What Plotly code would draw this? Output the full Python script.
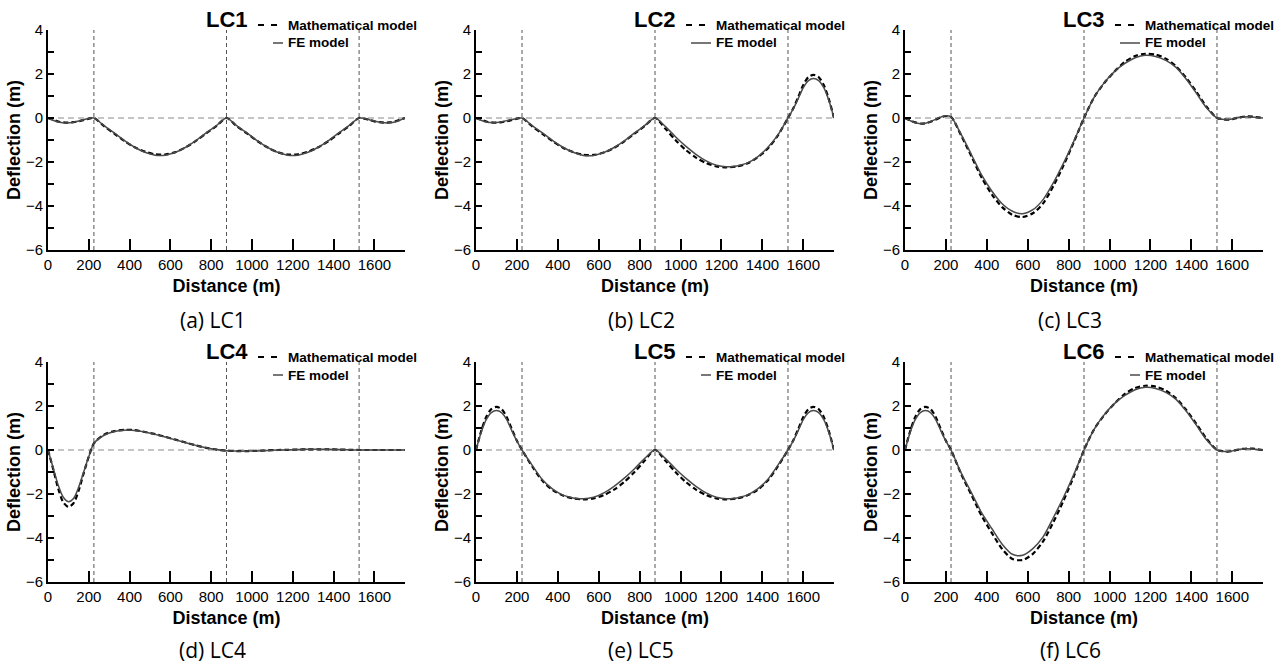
import plotly.graph_objects as go

# ---------------- data ----------------
X_DIST = [0, 25, 50, 75, 100, 125, 150, 175, 200, 225,
          275, 325, 375, 425, 475, 525, 575, 625, 675, 725, 775, 825, 875,
          925, 975, 1025, 1075, 1125, 1175, 1225, 1275, 1325, 1375, 1425, 1475, 1525,
          1550, 1575, 1600, 1625, 1650, 1675, 1700, 1725, 1750]

SUPPORTS = [225, 875, 1525]

CASES = ["LC1", "LC2", "LC3", "LC4", "LC5", "LC6"]
CAPTIONS = ["(a) LC1", "(b) LC2", "(c) LC3", "(d) LC4", "(e) LC5", "(f) LC6"]
SERIES_NAMES = ["Mathematical model", "FE model"]

LC1_MATH = [0, -0.08, -0.16, -0.2, -0.21, -0.19, -0.15, -0.09, -0.03, 0.0,
            -0.37, -0.71, -1.05, -1.33, -1.53, -1.65, -1.66, -1.55, -1.33, -1.04, -0.7, -0.37, 0.0,
            -0.37, -0.7, -1.04, -1.33, -1.55, -1.66, -1.65, -1.53, -1.33, -1.05, -0.71, -0.37, 0.0,
            -0.03, -0.09, -0.15, -0.19, -0.21, -0.2, -0.16, -0.08, 0.0]
LC1_FE = [0, -0.1, -0.18, -0.22, -0.22, -0.19, -0.14, -0.08, -0.02, 0.0,
          -0.35, -0.68, -1.03, -1.33, -1.56, -1.69, -1.69, -1.56, -1.33, -1.03, -0.68, -0.35, 0.0,
          -0.35, -0.68, -1.03, -1.33, -1.56, -1.69, -1.69, -1.56, -1.33, -1.03, -0.68, -0.35, 0.0,
          -0.02, -0.08, -0.14, -0.19, -0.22, -0.22, -0.18, -0.1, 0.0]

LC2_MATH = [0, -0.08, -0.16, -0.2, -0.21, -0.19, -0.15, -0.09, -0.03, 0.0,
            -0.38, -0.72, -1.06, -1.35, -1.55, -1.67, -1.68, -1.57, -1.36, -1.06, -0.71, -0.36, 0.0,
            -0.48, -1.0, -1.45, -1.8, -2.05, -2.2, -2.24, -2.2, -2.07, -1.8, -1.4, -0.8, 0.0,
            0.42, 0.95, 1.5, 1.86, 1.96, 1.86, 1.5, 0.85, 0.0]
LC2_FE = [0, -0.1, -0.18, -0.21, -0.2, -0.17, -0.12, -0.07, -0.02, 0.0,
          -0.35, -0.68, -1.03, -1.33, -1.56, -1.7, -1.7, -1.57, -1.34, -1.04, -0.68, -0.34, 0.0,
          -0.38, -0.85, -1.28, -1.65, -1.95, -2.15, -2.22, -2.18, -2.05, -1.78, -1.35, -0.78, 0.0,
          0.4, 0.88, 1.38, 1.7, 1.79, 1.7, 1.38, 0.8, 0.0]

LC3_MATH = [0, -0.11, -0.2, -0.25, -0.24, -0.17, -0.07, 0.03, 0.09, 0.05,
            -0.8, -1.75, -2.72, -3.48, -4.05, -4.4, -4.5, -4.33, -3.88, -3.1, -2.15, -1.1, 0.0,
            0.95, 1.6, 2.12, 2.55, 2.82, 2.92, 2.88, 2.7, 2.35, 1.82, 1.18, 0.5, 0.0,
            -0.05, -0.08, -0.05, 0.01, 0.05, 0.07, 0.06, 0.03, 0.0]
LC3_FE = [0, -0.12, -0.22, -0.26, -0.24, -0.16, -0.06, 0.04, 0.1, 0.05,
          -0.76, -1.67, -2.6, -3.33, -3.9, -4.24, -4.35, -4.17, -3.71, -2.95, -2.05, -1.06, 0.0,
          0.95, 1.62, 2.12, 2.48, 2.74, 2.85, 2.8, 2.62, 2.3, 1.76, 1.12, 0.45, 0.0,
          -0.06, -0.08, -0.04, 0.02, 0.05, 0.06, 0.05, 0.02, 0.0]

LC4_MATH = [0, -0.85, -1.75, -2.38, -2.58, -2.42, -1.85, -1.05, -0.3, 0.3,
            0.7, 0.86, 0.92, 0.9, 0.82, 0.72, 0.6, 0.47, 0.34, 0.21, 0.1, 0.02, -0.03,
            -0.05, -0.05, -0.04, -0.02, 0.0, 0.01, 0.02, 0.03, 0.03, 0.03, 0.02, 0.01, 0.0,
            0, 0, 0, 0, 0, 0, 0, 0, 0]
LC4_FE = [0, -0.8, -1.6, -2.15, -2.35, -2.2, -1.7, -1.0, -0.3, 0.3,
          0.67, 0.84, 0.9, 0.89, 0.82, 0.71, 0.59, 0.46, 0.33, 0.21, 0.1, 0.02, -0.03,
          -0.05, -0.05, -0.04, -0.02, 0.0, 0.01, 0.02, 0.03, 0.03, 0.03, 0.02, 0.01, 0.0,
          0, 0, 0, 0, 0, 0, 0, 0, 0]

LC5_MATH = [0, 0.85, 1.5, 1.86, 1.96, 1.86, 1.5, 0.95, 0.42, 0.0,
            -0.75, -1.4, -1.82, -2.07, -2.2, -2.24, -2.2, -2.05, -1.8, -1.45, -1.0, -0.48, 0.0,
            -0.48, -1.0, -1.45, -1.8, -2.05, -2.2, -2.24, -2.2, -2.07, -1.82, -1.4, -0.75, 0.0,
            0.42, 0.95, 1.5, 1.86, 1.96, 1.86, 1.5, 0.85, 0.0]
LC5_FE = [0, 0.8, 1.38, 1.7, 1.79, 1.7, 1.38, 0.88, 0.4, 0.0,
          -0.7, -1.35, -1.78, -2.05, -2.18, -2.22, -2.15, -1.95, -1.65, -1.28, -0.85, -0.38, 0.0,
          -0.38, -0.85, -1.28, -1.65, -1.95, -2.15, -2.22, -2.18, -2.05, -1.78, -1.35, -0.7, 0.0,
          0.4, 0.88, 1.38, 1.7, 1.79, 1.7, 1.38, 0.8, 0.0]

LC6_MATH = [0, 0.85, 1.5, 1.86, 1.96, 1.86, 1.5, 0.95, 0.42, 0.0,
            -1.1, -2.05, -3.0, -3.78, -4.5, -4.95, -5.0, -4.72, -4.15, -3.28, -2.3, -1.2, 0.0,
            0.95, 1.6, 2.12, 2.55, 2.82, 2.92, 2.88, 2.7, 2.35, 1.82, 1.18, 0.5, 0.0,
            -0.05, -0.08, -0.05, 0.01, 0.05, 0.07, 0.06, 0.03, 0.0]
LC6_FE = [0, 0.8, 1.38, 1.7, 1.79, 1.7, 1.38, 0.88, 0.4, 0.0,
          -1.05, -1.95, -2.86, -3.58, -4.28, -4.74, -4.78, -4.48, -3.95, -3.08, -2.15, -1.12, 0.0,
          0.95, 1.62, 2.12, 2.48, 2.74, 2.85, 2.8, 2.62, 2.3, 1.76, 1.12, 0.45, 0.0,
          -0.06, -0.08, -0.04, 0.02, 0.05, 0.06, 0.05, 0.02, 0.0]

MATH = [LC1_MATH, LC2_MATH, LC3_MATH, LC4_MATH, LC5_MATH, LC6_MATH]
FE = [LC1_FE, LC2_FE, LC3_FE, LC4_FE, LC5_FE, LC6_FE]

X_TICKS = [0, 200, 400, 600, 800, 1000, 1200, 1400, 1600]
Y_TICKS = [-6, -4, -2, 0, 2, 4]
Y_MINOR = [-5, -3, -1, 1, 3]
X_RANGE = [0, 1750]
Y_RANGE = [-6, 4]

# ---------------- layout geometry (pixels) ----------------
W, H = 1287, 665
COLS = [(48, 405), (476, 834), (905, 1263)]
ROWS = [(30, 250), (362, 582)]
CAPTION_Y = [320, 650]
FE_SAMPLE_LEN = [10, 20, 20, 10, 10, 10]

ARIAL = "Arial, Liberation Sans, sans-serif"
MATH_LINE = dict(color="black", width=2.2, dash="5px,3px")
FE_LINE = dict(color="#4a4a4a", width=1.5)


def px_x(p):
    return p / W


def px_y(p):
    return 1 - p / H


fig = go.Figure()
layout = dict(
    width=W, height=H,
    margin=dict(l=0, r=0, t=0, b=0),
    paper_bgcolor="white", plot_bgcolor="white",
    font=dict(family=ARIAL, color="black"),
    showlegend=False,
    annotations=[], shapes=[],
)

for i in range(6):
    r, c = divmod(i, 3)
    n = i + 1
    sfx = "" if n == 1 else str(n)
    xa, ya = "x" + sfx, "y" + sfx
    x0, x1 = COLS[c]
    y0, y1 = ROWS[r]

    fig.add_trace(go.Scatter(
        x=X_DIST, y=MATH[i], mode="lines", name=SERIES_NAMES[0],
        line=dict(**MATH_LINE, shape="spline", smoothing=0.8),
        xaxis=xa, yaxis=ya))
    fig.add_trace(go.Scatter(
        x=X_DIST, y=FE[i], mode="lines", name=SERIES_NAMES[1],
        line=dict(**FE_LINE, shape="spline", smoothing=0.8),
        xaxis=xa, yaxis=ya))

    layout["xaxis" + sfx] = dict(
        domain=[px_x(x0), px_x(x1)], anchor=ya, range=X_RANGE,
        tickmode="array", tickvals=X_TICKS,
        ticks="inside", ticklen=11, tickwidth=2, tickcolor="black",
        showline=True, linecolor="black", linewidth=2,
        showgrid=False, zeroline=False,
        tickfont=dict(family=ARIAL, size=15, color="black"),
        title=dict(text="Distance (m)",
                   font=dict(family=ARIAL, size=18, color="black", weight="bold"),
                   standoff=7),
        automargin=False,
    )
    layout["yaxis" + sfx] = dict(
        domain=[px_y(y1), px_y(y0)], anchor=xa, range=Y_RANGE,
        tickmode="array", tickvals=Y_TICKS,
        ticks="inside", ticklen=6, tickwidth=1.5, tickcolor="black",
        minor=dict(tickmode="array", tickvals=Y_MINOR, ticks="inside",
                   ticklen=6, tickwidth=1.5, tickcolor="black", showgrid=False),
        showline=True, linecolor="black", linewidth=2,
        showgrid=False, zeroline=False,
        tickfont=dict(family=ARIAL, size=15, color="black"),
        title=dict(text="Deflection (m)",
                   font=dict(family=ARIAL, size=18, color="black", weight="bold"),
                   standoff=1),
        automargin=False,
    )

    # support lines and zero line
    for s in SUPPORTS:
        layout["shapes"].append(dict(
            type="line", xref=xa, yref=ya + " domain", x0=s, x1=s, y0=0, y1=1,
            line=dict(color="#555555", width=1, dash="4px,3px"), layer="below"))
    layout["shapes"].append(dict(
        type="line", xref=xa + " domain", yref=ya, x0=0, x1=1, y0=0, y1=0,
        line=dict(color="#8a8a8a", width=1, dash="6px,4px"), layer="below"))

    # legend (drawn per panel)
    ly1, ly2 = y0 - 5, y0 + 13
    layout["shapes"].append(dict(
        type="line", xref="paper", yref="paper",
        x0=px_x(x0 + 210), x1=px_x(x0 + 230), y0=px_y(ly1), y1=px_y(ly1),
        line=dict(color="black", width=2.2, dash="6px,7px")))
    layout["shapes"].append(dict(
        type="line", xref="paper", yref="paper",
        x0=px_x(x0 + 235 - FE_SAMPLE_LEN[i]), x1=px_x(x0 + 235), y0=px_y(ly2), y1=px_y(ly2),
        line=dict(color="#4a4a4a", width=1.5)))
    for txt, ly in ((SERIES_NAMES[0], ly1), (SERIES_NAMES[1], ly2)):
        layout["annotations"].append(dict(
            text=txt, xref="paper", yref="paper",
            x=px_x(x0 + 238), y=px_y(ly), xanchor="left", yanchor="middle",
            showarrow=False,
            font=dict(family=ARIAL, size=13.5, color="black", weight="bold")))

    # panel title
    layout["annotations"].append(dict(
        text=CASES[i], xref="paper", yref="paper",
        x=px_x((x0 + x1) / 2), y=px_y(y0 - 11), xanchor="center", yanchor="middle",
        showarrow=False, font=dict(family=ARIAL, size=22, color="black", weight="bold")))
    # caption
    layout["annotations"].append(dict(
        text=CAPTIONS[i], xref="paper", yref="paper",
        x=px_x((x0 + x1) / 2 - 14), y=px_y(CAPTION_Y[r]), xanchor="center", yanchor="middle",
        showarrow=False, font=dict(family="Open Sans, sans-serif", size=21, color="black")))

fig.update_layout(**layout)
fig.write_html("out.html",
               config={"displayModeBar": False},
               post_script="document.body.style.margin='0';document.body.style.padding='0';")
